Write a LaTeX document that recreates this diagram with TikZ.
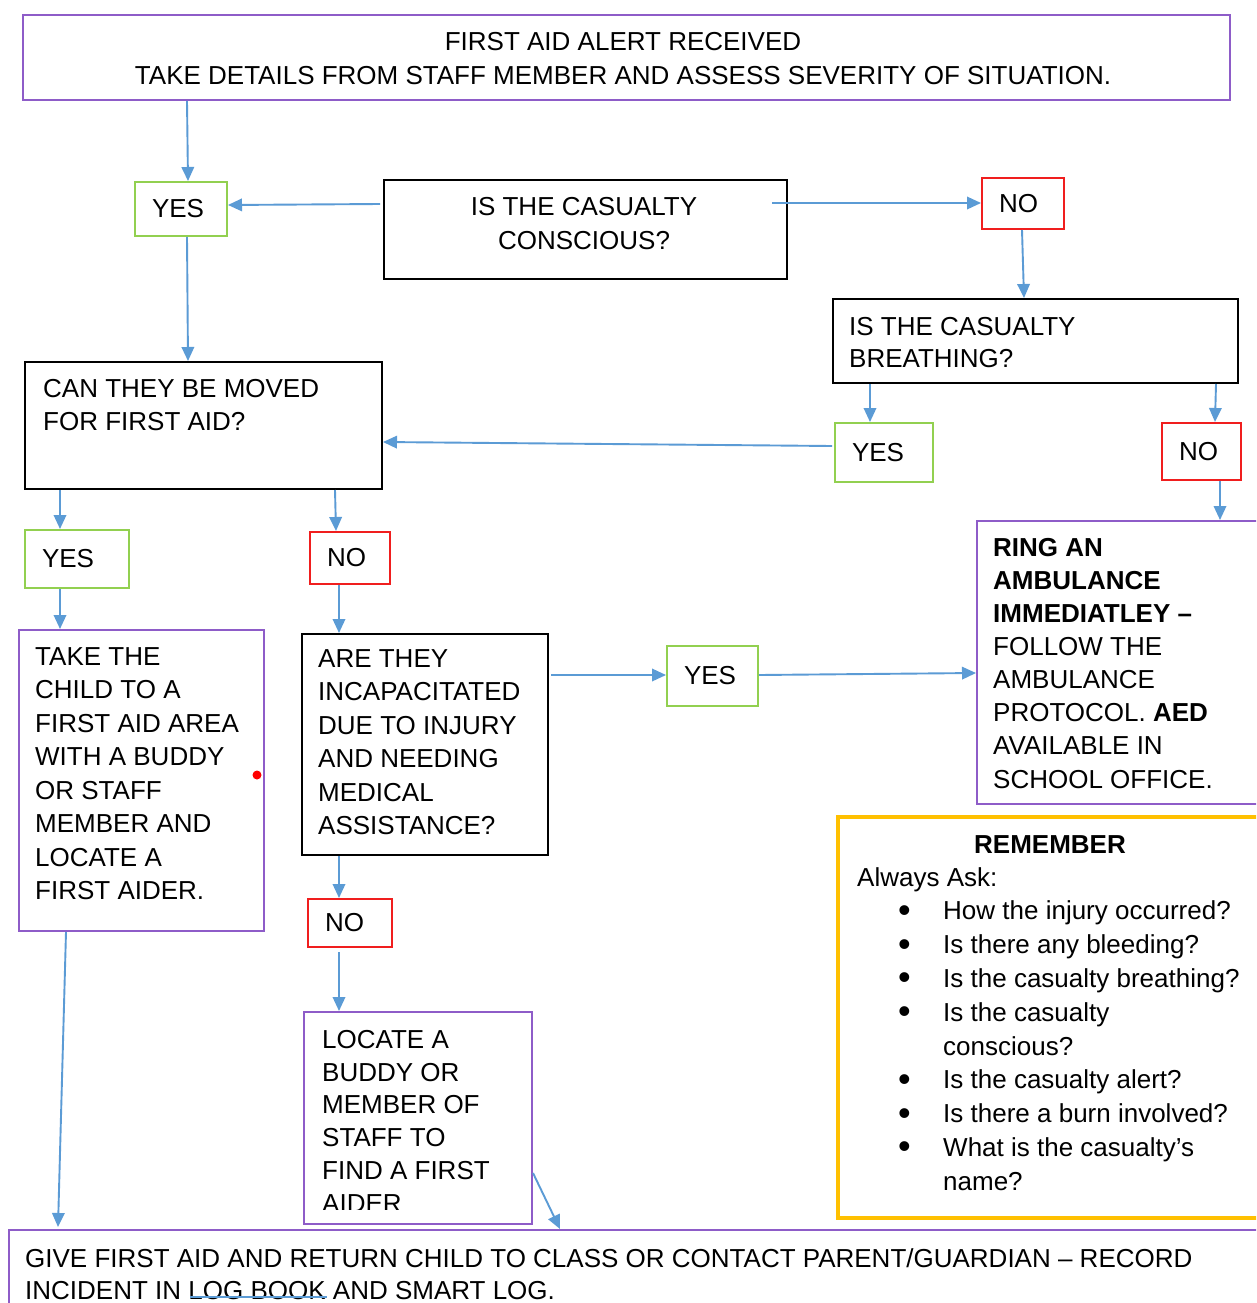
\documentclass[tikz,border=0pt]{standalone}
\usepackage{fontspec}
\setmainfont{Liberation Sans}
\usetikzlibrary{arrows.meta,calc}
\definecolor{pur}{RGB}{142,92,200}
\definecolor{grn}{RGB}{146,208,80}
\definecolor{redb}{RGB}{240,30,30}
\definecolor{org}{RGB}{255,192,0}
\definecolor{arrb}{RGB}{91,155,213}
\newcommand\bulitem{\makebox[86pt][l]{\hspace{41pt}\raisebox{-2.5pt}{\fontsize{36}{36}\selectfont •}}}
\newcommand\indtitem{\makebox[86pt]{}}
\tikzset{
  bx/.style={draw=#1, line width=2pt, inner sep=0pt, anchor=north west},
  lbl/.style={draw=#1, line width=2pt, inner xsep=17pt, inner ysep=0pt, anchor=north west, align=left},
  txt/.style={inner sep=0pt, align=left, anchor=north west},
  arr/.style={draw=arrb, line width=1.9pt, -{Triangle[length=14pt,width=12.5pt]}},
}
\begin{document}
\begin{tikzpicture}[x=1pt,y=-1pt,every node/.style={font=\fontsize{26}{33.5}\selectfont}]
\clip (0,0) rectangle (1256,1303);
\fill[white] (0,0) rectangle (1256,1303);
% boxes
\node[bx=pur, minimum width=1207, minimum height=85] (top) at (22,14) {};
\node[bx=black, minimum width=403, minimum height=99] (q1) at (383,179) {};
\node[bx=black, minimum width=405, minimum height=84] (q2) at (832,298) {};
\node[bx=black, minimum width=357, minimum height=127] (q3) at (24,361) {};
\node[bx=pur, minimum width=245, minimum height=301] (take) at (18,629) {};
\node[bx=black, minimum width=246, minimum height=221] (q4) at (301,633) {};
\node[bx=pur, minimum width=300, minimum height=283] (ring) at (976,520) {};
\node[bx=org, line width=3.5pt, minimum width=440, minimum height=401] (rem) at (836,815) {};
\node[bx=pur, minimum width=228, minimum height=212] (loc) at (303,1011) {};
\node[bx=pur, minimum width=1268, minimum height=100] (bot) at (8,1229) {};
% labels
\node[lbl=grn, text width=58, minimum height=54] (y1) at (134,181) {YES};
\node[lbl=redb, text width=48, minimum height=51] (n1) at (981,177) {NO};
\node[lbl=grn, text width=64, minimum height=59] (y2) at (834,422) {YES};
\node[lbl=redb, text width=45, minimum height=57] (n2) at (1161,422) {NO};
\node[lbl=grn, text width=70, minimum height=58] (y3) at (24,529) {YES};
\node[lbl=redb, text width=46, minimum height=52] (n3) at (309,531) {NO};
\node[lbl=grn, text width=57, minimum height=60] (y4) at (666,645) {YES};
\node[lbl=redb, text width=50, minimum height=48] (n4) at (307,898) {NO};
% texts
\node[txt, align=center, anchor=north, font=\fontsize{26}{34}\selectfont] (topt) at (623,32)
  {FIRST AID ALERT RECEIVED\\TAKE DETAILS FROM STAFF MEMBER AND ASSESS SEVERITY OF SITUATION.};
\node[txt, align=center, anchor=north, font=\fontsize{26}{34}\selectfont] (q1t) at (584,197)
  {IS THE CASUALTY\\CONSCIOUS?};
\node[txt, font=\fontsize{26}{32}\selectfont] (q2t) at (849,317) {IS THE CASUALTY\\BREATHING?};
\node[txt, font=\fontsize{26}{33}\selectfont] (q3t) at (43,379) {CAN THEY BE MOVED\\FOR FIRST AID?};
\node[txt] (taket) at (35,647) {TAKE THE\\CHILD TO A\\FIRST AID AREA\\WITH A BUDDY\\OR STAFF\\MEMBER AND\\LOCATE A\\FIRST AIDER.};
\node[txt] (q4t) at (318,649) {ARE THEY\\INCAPACITATED\\DUE TO INJURY\\AND NEEDING\\MEDICAL\\ASSISTANCE?};
\node[txt, font=\fontsize{26}{33.1}\selectfont] (ringt) at (993,538) {\textbf{RING AN}\\\textbf{AMBULANCE}\\\textbf{IMMEDIATLEY –}\\FOLLOW THE\\AMBULANCE\\PROTOCOL. \textbf{AED}\\AVAILABLE IN\\SCHOOL OFFICE.};
\node[txt, anchor=north, font=\bfseries\fontsize{26}{33.5}\selectfont] (remt) at (1050,835) {REMEMBER};
\node[txt, font=\fontsize{26}{33.8}\selectfont] (remb) at (857,867) {Always Ask:\\
  \bulitem How the injury occurred?\\
  \bulitem Is there any bleeding?\\
  \bulitem Is the casualty breathing?\\
  \bulitem Is the casualty\\
  \indtitem conscious?\\
  \bulitem Is the casualty alert?\\
  \bulitem Is there a burn involved?\\
  \bulitem What is the casualty’s\\
  \indtitem name?};
\begin{scope}
  \clip (loc.north west) rectangle ($(loc.south east)+(0,-16)$);
  \node[txt, font=\fontsize{26}{32.8}\selectfont] (loct) at (322,1030) {LOCATE A\\BUDDY OR\\MEMBER OF\\STAFF TO\\FIND A FIRST\\AIDER};
\end{scope}
\node[txt, font=\fontsize{26}{32}\selectfont] (bott) at (25,1248) {GIVE FIRST AID AND RETURN CHILD TO CLASS OR CONTACT PARENT/GUARDIAN – RECORD\\INCIDENT IN LOG BOOK AND SMART LOG.};
\draw[arrb, line width=1.5pt] (190,1297) -- (327,1297);
\fill[red] (257,775) circle (4.5);
% connectors
\draw[arr] ($(top.south west)+(165,0)$) -- ($(y1.north west)+(54,0)$);
\draw[arr] ($(q1.north west)+(-3,25)$) -- ($(y1.north east)+(0,24)$);
\draw[arr] ($(q1.north east)+(-16,24)$) -- ($(n1.north west)+(0,26)$);
\draw[arr] ($(n1.south west)+(41,0)$) -- ($(q2.north west)+(192,0)$);
\draw[arr] ($(y1.south west)+(53,0)$) -- ($(q3.north west)+(164,0)$);
\draw[arr] ($(q2.south west)+(38,0)$) -- ($(y2.north west)+(36,0)$);
\draw[arr] ($(q2.south east)+(-23,0)$) -- ($(n2.north west)+(54,0)$);
\draw[arr] ($(y2.north west)+(-2,24)$) -- ($(q3.north east)+(0,81)$);
\draw[arr] ($(n2.south west)+(59,0)$) -- ($(ring.north west)+(244,0)$);
\draw[arr] ($(q3.south west)+(36,0)$) -- ($(y3.north west)+(36,0)$);
\draw[arr] ($(q3.south west)+(311,0)$) -- ($(n3.north west)+(27,0)$);
\draw[arr] ($(y3.south west)+(36,0)$) -- ($(take.north west)+(42,0)$);
\draw[arr] ($(n3.south west)+(30,0)$) -- ($(q4.north west)+(38,0)$);
\draw[arr] ($(q4.north east)+(2,42)$) -- ($(y4.north west)+(0,30)$);
\draw[arr] ($(y4.north east)+(0,30)$) -- ($(ring.north west)+(0,153)$);
\draw[arr] ($(q4.south west)+(38,0)$) -- ($(n4.north west)+(32,0)$);
\draw[arr] ($(n4.south west)+(32,4)$) -- ($(loc.north west)+(36,0)$);
\draw[arr] ($(take.south west)+(48,0)$) -- ($(bot.north west)+(50,-2)$);
\draw[arr] ($(loc.north east)+(0,162)$) -- ($(bot.north west)+(552,0)$);
\end{tikzpicture}
\end{document}
